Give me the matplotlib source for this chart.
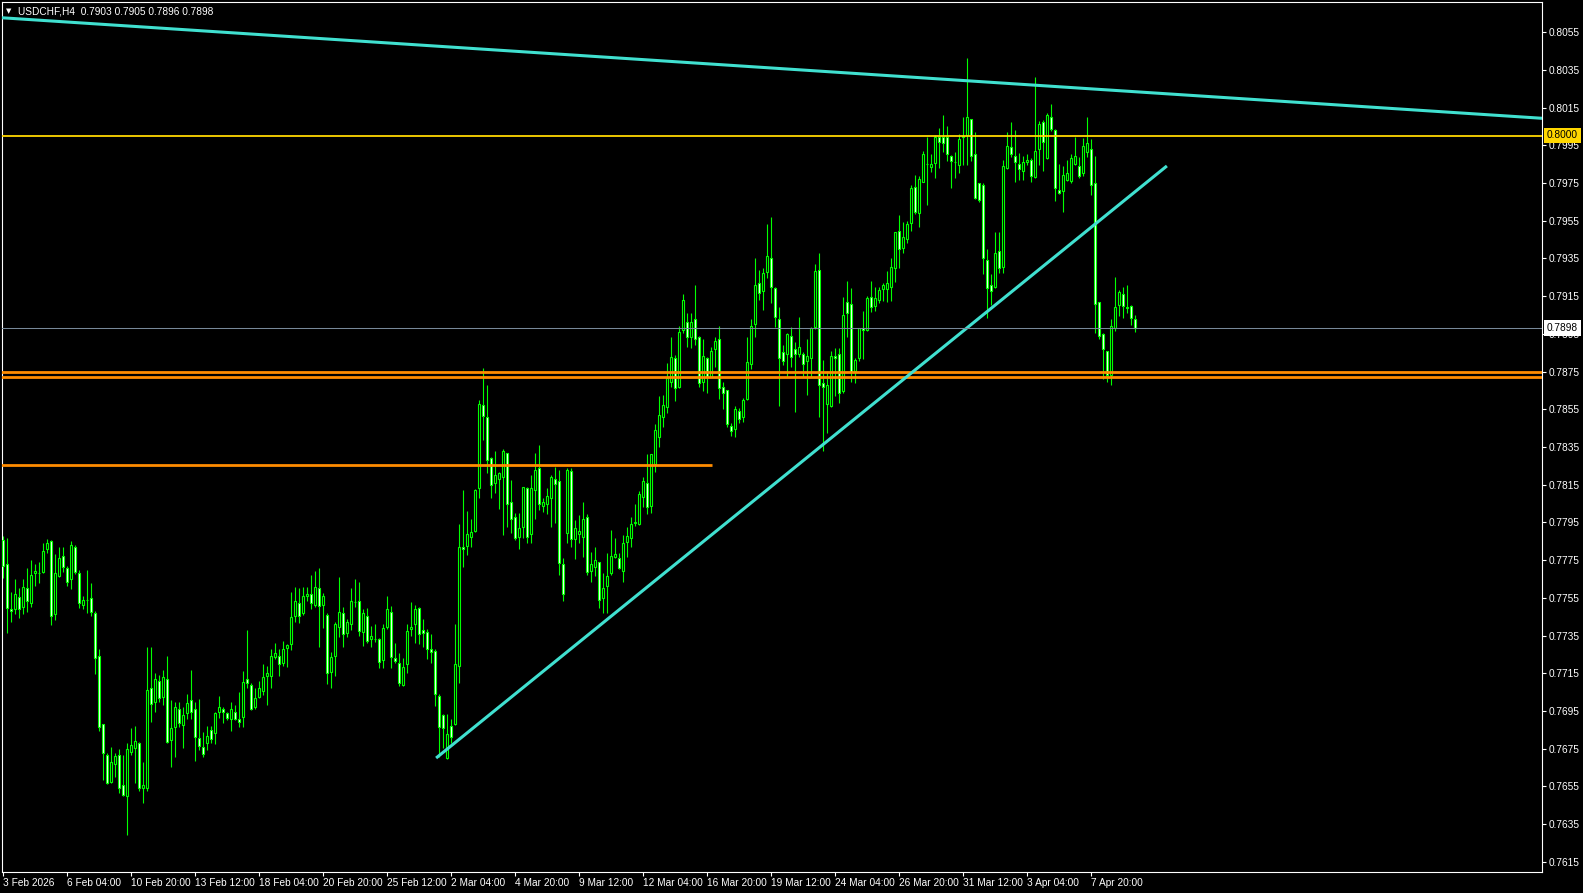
import numpy as np
import matplotlib
matplotlib.use("Agg")
import matplotlib.pyplot as plt

plt.rcParams['font.family'] = ['Liberation Sans', 'DejaVu Sans']

# USDCHF H4 candles, bar 0 = 3 Feb 2026 00:00
opens = [
    0.77857, 0.77728, 0.77489, 0.77489, 0.77556, 0.77500, 0.77601, 0.77525, 0.77680, 0.77680,
    0.77689, 0.77807, 0.77852, 0.77464, 0.77666, 0.77772, 0.77707, 0.77648, 0.77818, 0.77680,
    0.77512, 0.77539, 0.77548, 0.77468, 0.77242, 0.76881, 0.76715, 0.76575, 0.76667, 0.76715,
    0.76557, 0.76496, 0.76734, 0.76755, 0.76778, 0.76543, 0.76543, 0.77070, 0.76996, 0.77107,
    0.77026, 0.77118, 0.76796, 0.76867, 0.76959, 0.76877, 0.76938, 0.77008, 0.76959, 0.76805,
    0.76757, 0.76778, 0.76847, 0.76834, 0.76946, 0.76958, 0.76937, 0.76905, 0.76946, 0.76905,
    0.76916, 0.77117, 0.77087, 0.76969, 0.77025, 0.77057, 0.77137, 0.77137, 0.77238, 0.77241,
    0.77206, 0.77286, 0.77307, 0.77455, 0.77524, 0.77468, 0.77560, 0.77569, 0.77512, 0.77601,
    0.77512, 0.77459, 0.77158, 0.77243, 0.77397, 0.77468, 0.77365, 0.77409, 0.77527, 0.77535,
    0.77367, 0.77455, 0.77330, 0.77333, 0.77330, 0.77220, 0.77397, 0.77477, 0.77231, 0.77206,
    0.77086, 0.77197, 0.77386, 0.77409, 0.77498, 0.77377, 0.77367, 0.77277, 0.77268, 0.77029,
    0.76929, 0.76699, 0.76872, 0.76879, 0.77188, 0.77818, 0.77827, 0.77874, 0.77906, 0.78131,
    0.78573, 0.78507, 0.78290, 0.78157, 0.78180, 0.78189, 0.78316, 0.78057, 0.77977, 0.77874,
    0.77928, 0.78131, 0.77887, 0.78122, 0.78237, 0.78039, 0.78046, 0.78078, 0.78180, 0.78170,
    0.77729, 0.77896, 0.78223, 0.77860, 0.77887, 0.77874, 0.77977, 0.77692, 0.77715, 0.77738,
    0.77547, 0.77615, 0.77680, 0.77768, 0.77760, 0.77694, 0.77848, 0.77866, 0.77949, 0.77940,
    0.78087, 0.78157, 0.78039, 0.78258, 0.78401, 0.78507, 0.78561, 0.78697, 0.78820, 0.78667,
    0.78971, 0.79011, 0.78935, 0.79027, 0.78935, 0.78697, 0.78820, 0.78723, 0.78868, 0.78921,
    0.78670, 0.78653, 0.78462, 0.78446, 0.78541, 0.78508, 0.78605, 0.78790, 0.79001, 0.79218,
    0.79179, 0.79280, 0.79351, 0.79192, 0.79029, 0.78856, 0.78843, 0.78939, 0.78868, 0.78843,
    0.78842, 0.78808, 0.78820, 0.78989, 0.79289, 0.78688, 0.78577, 0.78568, 0.78833, 0.78842,
    0.78649, 0.79118, 0.79107, 0.78755, 0.78820, 0.78980, 0.78971, 0.79148, 0.79100, 0.79130,
    0.79190, 0.79190, 0.79197, 0.79298, 0.79498, 0.79408, 0.79452, 0.79540, 0.79728, 0.79590,
    0.79758, 0.79850, 0.79837, 0.79858, 0.79993, 0.79993, 0.79993, 0.79894, 0.79860, 0.79846,
    0.79993, 0.80005, 0.80088, 0.79903, 0.79749, 0.79740, 0.79342, 0.79210, 0.79197, 0.79390,
    0.79307, 0.79828, 0.79940, 0.79894, 0.79850, 0.79816, 0.79860, 0.79873, 0.79781, 0.79929,
    0.80072, 0.79882, 0.80099, 0.80032, 0.79714, 0.79710, 0.79767, 0.79761, 0.79850, 0.79841,
    0.79802, 0.79917, 0.79931, 0.79749, 0.79118, 0.78948, 0.78860, 0.78732, 0.78980, 0.79104,
    0.79160, 0.79092, 0.79100, 0.79030,
]
highs = [
    0.77878, 0.77866, 0.77583, 0.77648, 0.77601, 0.77648, 0.77707, 0.77751, 0.77730, 0.77742,
    0.77839, 0.77860, 0.77855, 0.77783, 0.77822, 0.77818, 0.77719, 0.77852, 0.77830, 0.77698,
    0.77560, 0.77698, 0.77627, 0.77482, 0.77279, 0.76881, 0.76725, 0.76761, 0.76729, 0.76748,
    0.76717, 0.76778, 0.76858, 0.76870, 0.76787, 0.76678, 0.77291, 0.77291, 0.77150, 0.77141,
    0.77167, 0.77242, 0.77008, 0.76998, 0.76998, 0.76973, 0.77040, 0.77167, 0.76998, 0.77015,
    0.76837, 0.76870, 0.76870, 0.76946, 0.77029, 0.76972, 0.76946, 0.76997, 0.76981, 0.77050,
    0.77162, 0.77379, 0.77096, 0.77070, 0.77110, 0.77199, 0.77188, 0.77278, 0.77309, 0.77277,
    0.77321, 0.77305, 0.77581, 0.77606, 0.77601, 0.77606, 0.77606, 0.77671, 0.77693, 0.77707,
    0.77574, 0.77471, 0.77264, 0.77424, 0.77659, 0.77503, 0.77436, 0.77601, 0.77648, 0.77636,
    0.77489, 0.77498, 0.77401, 0.77409, 0.77339, 0.77409, 0.77560, 0.77507, 0.77309, 0.77255,
    0.77229, 0.77409, 0.77528, 0.77512, 0.77503, 0.77436, 0.77383, 0.77358, 0.77277, 0.77038,
    0.76934, 0.76934, 0.76907, 0.77411, 0.77942, 0.78122, 0.78011, 0.77968, 0.78125, 0.78599,
    0.78767, 0.78679, 0.78299, 0.78329, 0.78219, 0.78338, 0.78320, 0.78175, 0.77998, 0.77998,
    0.78140, 0.78136, 0.78202, 0.78320, 0.78361, 0.78078, 0.78131, 0.78202, 0.78242, 0.78228,
    0.77760, 0.78237, 0.78237, 0.77963, 0.77989, 0.78060, 0.77995, 0.77795, 0.77818, 0.77742,
    0.77680, 0.77790, 0.77910, 0.77866, 0.77790, 0.77883, 0.77928, 0.77981, 0.78048, 0.78117,
    0.78193, 0.78311, 0.78313, 0.78470, 0.78621, 0.78626, 0.78794, 0.78935, 0.78838, 0.78992,
    0.79162, 0.79059, 0.79063, 0.79209, 0.78939, 0.78921, 0.78829, 0.78882, 0.78932, 0.78992,
    0.78697, 0.78653, 0.78476, 0.78569, 0.78555, 0.78608, 0.78935, 0.79027, 0.79351, 0.79289,
    0.79301, 0.79533, 0.79568, 0.79197, 0.79091, 0.78891, 0.78953, 0.78989, 0.78909, 0.79041,
    0.78856, 0.78921, 0.78989, 0.79321, 0.79381, 0.78812, 0.78755, 0.78861, 0.78874, 0.78874,
    0.79148, 0.79231, 0.79192, 0.78824, 0.78983, 0.79072, 0.79153, 0.79232, 0.79197, 0.79197,
    0.79219, 0.79284, 0.79351, 0.79492, 0.79581, 0.79546, 0.79549, 0.79740, 0.79793, 0.79790,
    0.79920, 0.79993, 0.79903, 0.80005, 0.80041, 0.80111, 0.80053, 0.79899, 0.79917, 0.80011,
    0.80102, 0.80412, 0.80090, 0.80019, 0.79752, 0.79749, 0.79399, 0.79268, 0.79493, 0.79493,
    0.79873, 0.80019, 0.80076, 0.80032, 0.79908, 0.79894, 0.79905, 0.79885, 0.80311, 0.80081,
    0.80085, 0.80124, 0.80170, 0.80037, 0.79851, 0.79841, 0.79873, 0.79905, 0.79993, 0.79890,
    0.79988, 0.80099, 0.79982, 0.79894, 0.79118, 0.78953, 0.78860, 0.79028, 0.79250, 0.79183,
    0.79197, 0.79210, 0.79104, 0.79050,
]
lows = [
    0.77654, 0.77365, 0.77424, 0.77463, 0.77445, 0.77464, 0.77477, 0.77500, 0.77613, 0.77627,
    0.77680, 0.77786, 0.77406, 0.77433, 0.77659, 0.77689, 0.77613, 0.77599, 0.77677, 0.77498,
    0.77489, 0.77468, 0.77454, 0.77146, 0.76846, 0.76584, 0.76560, 0.76566, 0.76602, 0.76517,
    0.76496, 0.76292, 0.76717, 0.76566, 0.76527, 0.76464, 0.76527, 0.76893, 0.76946, 0.76999,
    0.76982, 0.76780, 0.76655, 0.76708, 0.76867, 0.76755, 0.76906, 0.76906, 0.76686, 0.76743,
    0.76708, 0.76743, 0.76781, 0.76774, 0.76910, 0.76887, 0.76901, 0.76845, 0.76901, 0.76866,
    0.76866, 0.77070, 0.76955, 0.76958, 0.77016, 0.77034, 0.76981, 0.77071, 0.77224, 0.77135,
    0.77188, 0.77185, 0.77273, 0.77422, 0.77418, 0.77457, 0.77535, 0.77489, 0.77500, 0.77287,
    0.77388, 0.77093, 0.77073, 0.77137, 0.77340, 0.77287, 0.77344, 0.77379, 0.77503, 0.77347,
    0.77296, 0.77309, 0.77287, 0.77317, 0.77176, 0.77176, 0.77383, 0.77176, 0.77206, 0.77082,
    0.77080, 0.77149, 0.77347, 0.77309, 0.77305, 0.77287, 0.77225, 0.77206, 0.76978, 0.76708,
    0.76752, 0.76695, 0.76778, 0.76875, 0.77097, 0.77715, 0.77777, 0.77821, 0.77901, 0.78078,
    0.78387, 0.78210, 0.78078, 0.78104, 0.78019, 0.77883, 0.77928, 0.77896, 0.77857, 0.77807,
    0.77866, 0.77839, 0.77839, 0.77966, 0.78016, 0.78007, 0.77995, 0.77928, 0.77945, 0.77671,
    0.77535, 0.77843, 0.77818, 0.77754, 0.77839, 0.77768, 0.77671, 0.77636, 0.77666, 0.77494,
    0.77468, 0.77468, 0.77671, 0.77760, 0.77701, 0.77636, 0.77768, 0.77821, 0.77933, 0.77936,
    0.78034, 0.77995, 0.77998, 0.78219, 0.78352, 0.78458, 0.78529, 0.78670, 0.78596, 0.78661,
    0.78957, 0.78879, 0.78877, 0.78891, 0.78667, 0.78649, 0.78638, 0.78720, 0.78776, 0.78603,
    0.78550, 0.78458, 0.78409, 0.78405, 0.78479, 0.78485, 0.78600, 0.78762, 0.78935, 0.79130,
    0.79077, 0.79245, 0.79116, 0.78989, 0.78569, 0.78785, 0.78723, 0.78776, 0.78538, 0.78829,
    0.78720, 0.78626, 0.78723, 0.78974, 0.78511, 0.78330, 0.78426, 0.78564, 0.78621, 0.78585,
    0.78635, 0.78932, 0.78697, 0.78688, 0.78808, 0.78815, 0.78967, 0.79068, 0.79073, 0.79112,
    0.79127, 0.79118, 0.79127, 0.79227, 0.79298, 0.79378, 0.79434, 0.79498, 0.79584, 0.79519,
    0.79754, 0.79634, 0.79811, 0.79779, 0.79828, 0.79917, 0.79869, 0.79722, 0.79779, 0.79806,
    0.79846, 0.79846, 0.79869, 0.79664, 0.79652, 0.79268, 0.79036, 0.79104, 0.79192, 0.79275,
    0.79271, 0.79825, 0.79890, 0.79758, 0.79767, 0.79767, 0.79846, 0.79758, 0.79779, 0.79846,
    0.79816, 0.79880, 0.80028, 0.79657, 0.79692, 0.79599, 0.79761, 0.79752, 0.79846, 0.79779,
    0.79788, 0.79890, 0.79687, 0.78957, 0.78922, 0.78709, 0.78697, 0.78679, 0.78967, 0.79045,
    0.79033, 0.79063, 0.78998, 0.78960,
]
closes = [
    0.77719, 0.77498, 0.77479, 0.77569, 0.77489, 0.77606, 0.77535, 0.77671, 0.77693, 0.77682,
    0.77799, 0.77839, 0.77456, 0.77680, 0.77760, 0.77715, 0.77636, 0.77830, 0.77689, 0.77525,
    0.77539, 0.77539, 0.77477, 0.77229, 0.76867, 0.76725, 0.76566, 0.76679, 0.76711, 0.76543,
    0.76504, 0.76747, 0.76768, 0.76791, 0.76540, 0.76557, 0.77061, 0.76985, 0.77118, 0.77017,
    0.77128, 0.76787, 0.76858, 0.76969, 0.76888, 0.76927, 0.76994, 0.76946, 0.76814, 0.76766,
    0.76722, 0.76817, 0.76801, 0.76937, 0.76969, 0.76946, 0.76914, 0.76958, 0.76905, 0.76893,
    0.77105, 0.77096, 0.76958, 0.77016, 0.77070, 0.77128, 0.77149, 0.77243, 0.77255, 0.77197,
    0.77277, 0.77298, 0.77447, 0.77535, 0.77455, 0.77560, 0.77570, 0.77524, 0.77606, 0.77509,
    0.77560, 0.77149, 0.77238, 0.77409, 0.77477, 0.77356, 0.77420, 0.77535, 0.77526, 0.77376,
    0.77468, 0.77319, 0.77347, 0.77333, 0.77209, 0.77388, 0.77489, 0.77238, 0.77216, 0.77096,
    0.77185, 0.77376, 0.77397, 0.77489, 0.77356, 0.77365, 0.77277, 0.77265, 0.77038, 0.76867,
    0.76858, 0.76828, 0.76814, 0.77199, 0.77818, 0.77807, 0.77889, 0.77901, 0.78122, 0.78576,
    0.78516, 0.78281, 0.78148, 0.78202, 0.78210, 0.78329, 0.78046, 0.77966, 0.77866, 0.77919,
    0.78136, 0.77874, 0.78131, 0.78228, 0.78046, 0.78057, 0.78090, 0.78189, 0.78154, 0.77737,
    0.77569, 0.78228, 0.77860, 0.77919, 0.77906, 0.77966, 0.77689, 0.77729, 0.77751, 0.77539,
    0.77604, 0.77668, 0.77772, 0.77783, 0.77706, 0.77839, 0.77878, 0.77942, 0.77950, 0.78099,
    0.78170, 0.78030, 0.78311, 0.78440, 0.78520, 0.78573, 0.78714, 0.78829, 0.78661, 0.78958,
    0.79130, 0.78935, 0.79015, 0.78921, 0.78688, 0.78833, 0.78723, 0.78859, 0.78912, 0.78661,
    0.78638, 0.78470, 0.78437, 0.78552, 0.78497, 0.78600, 0.78799, 0.78992, 0.79209, 0.79169,
    0.79271, 0.79363, 0.79197, 0.79038, 0.78820, 0.78808, 0.78948, 0.78829, 0.78842, 0.78879,
    0.78790, 0.78833, 0.78980, 0.79284, 0.78679, 0.78667, 0.78679, 0.78833, 0.78820, 0.78638,
    0.79050, 0.79059, 0.78750, 0.78812, 0.78980, 0.78971, 0.79139, 0.79091, 0.79139, 0.79183,
    0.79208, 0.79219, 0.79307, 0.79489, 0.79399, 0.79463, 0.79533, 0.79722, 0.79599, 0.79770,
    0.79903, 0.79850, 0.79851, 0.79993, 0.79970, 0.79961, 0.79903, 0.79869, 0.79861, 0.79982,
    0.80000, 0.80099, 0.79894, 0.79669, 0.79661, 0.79351, 0.79192, 0.79180, 0.79378, 0.79298,
    0.79841, 0.79949, 0.79903, 0.79860, 0.79825, 0.79860, 0.79873, 0.79790, 0.79920, 0.80064,
    0.79970, 0.80111, 0.80037, 0.79722, 0.79699, 0.79793, 0.79802, 0.79882, 0.79894, 0.79790,
    0.79949, 0.79961, 0.79740, 0.79107, 0.78939, 0.78870, 0.78732, 0.78992, 0.79091, 0.79171,
    0.79098, 0.79090, 0.79036, 0.78980,
]

date_labels = ['3 Feb 2026', '6 Feb 04:00', '10 Feb 20:00', '13 Feb 12:00', '18 Feb 04:00',
               '20 Feb 20:00', '25 Feb 12:00', '2 Mar 04:00', '4 Mar 20:00', '9 Mar 12:00',
               '12 Mar 04:00', '16 Mar 20:00', '19 Mar 12:00', '24 Mar 04:00', '26 Mar 20:00',
               '31 Mar 12:00', '3 Apr 04:00', '7 Apr 20:00']
price_ticks = [0.8055, 0.8035, 0.8015, 0.7995, 0.7975, 0.7955, 0.7935, 0.7915, 0.7895,
               0.7875, 0.7855, 0.7835, 0.7815, 0.7795, 0.7775, 0.7755, 0.7735, 0.7715,
               0.7695, 0.7675, 0.7655, 0.7635, 0.7615]

# drawn objects (bar index, price)
trend_down = [(-1, 0.80628), (386, 0.80092)]
trend_up = [(108.2, 0.76700), (290.9, 0.79841)]
level_yellow = 0.8000
levels_orange = [0.78746, 0.78719]
level_orange_short = 0.78253
orange_short_end = 177.1
bid = 0.7898
title = 'USDCHF,H4  0.7903 0.7905 0.7896 0.7898'

W, H = 1583, 893
LIME = '#00FF00'
fig = plt.figure(figsize=(W / 100, H / 100), dpi=100, facecolor='black')
ax = fig.add_axes([2 / W, 21 / H, 1540 / W, 870 / H])
ax.set_facecolor('black')

o = np.array(opens)
c = np.array(closes)
x = np.arange(len(o))
bull = c >= o

ax.vlines(x, lows, highs, color=LIME, lw=0.8, zorder=2)
ax.bar(x[bull], (c - o)[bull], bottom=o[bull], width=0.5, color='black',
       edgecolor=LIME, linewidth=0.8, zorder=3)
ax.bar(x[~bull], (c - o)[~bull], bottom=o[~bull], width=0.5, color='white',
       edgecolor=LIME, linewidth=0.8, zorder=3)

# objects
ax.axhline(level_yellow, color='#FFD700', lw=1.3, zorder=5)
for lv in levels_orange:
    ax.axhline(lv, color='#FF8C00', lw=2.0, zorder=5)
ax.plot([-1, orange_short_end], [level_orange_short] * 2, color='#FF8C00', lw=2.0, zorder=5,
        solid_capstyle='butt')
ax.axhline(bid, color='#778899', lw=0.75, zorder=6)
ax.plot(*zip(*trend_down), color='#40E0D0', lw=2.2, zorder=5)
ax.plot(*zip(*trend_up), color='#40E0D0', lw=2.2, zorder=5, solid_capstyle='butt')

ax.set_xlim(-0.325, 384.675)
ax.set_ylim(0.760954, 0.807107)

# axes look
for s in ax.spines.values():
    s.set_color('white')
    s.set_linewidth(0.8)
ax.yaxis.tick_right()
ax.set_yticks(price_ticks)
ax.set_yticklabels([f'{p:.4f}' for p in price_ticks])
ax.set_xticks(np.arange(len(date_labels)) * 16)
ax.set_xticklabels(date_labels, ha='left')
ax.tick_params(axis='both', colors='white', labelsize=7.3, length=3, width=0.8, pad=1.5)
ax.tick_params(axis='x', pad=1.0)

# price boxes on the scale
fig.text(1547 / W, 1 - 135.5 / H, '0.8000', fontsize=7.3, color='black', va='center',
         ha='left', bbox=dict(boxstyle='square,pad=0.25', fc='#FFD700', ec='none'), zorder=10)
fig.text(1547 / W, 1 - 328 / H, '0.7898', fontsize=7.3, color='black', va='center',
         ha='left', bbox=dict(boxstyle='square,pad=0.25', fc='white', ec='none'), zorder=10)

# chart title
fig.text(6 / W, 1 - 11 / H, '\u25bc', fontsize=5, color='white', va='center', ha='left',
         family=['DejaVu Sans'])
fig.text(18 / W, 1 - 11 / H, title, fontsize=7.3, color='white', va='center', ha='left')

fig.savefig('out.png', dpi=100, facecolor='black')
